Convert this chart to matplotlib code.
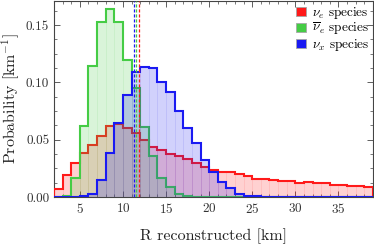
import numpy as np
import matplotlib
matplotlib.use('Agg')
import matplotlib.pyplot as plt
from matplotlib.patches import Patch
from matplotlib.ticker import MultipleLocator

# --------------------------------------------------------------------------------------
# Data (bins of 1 km from 2 to 39)

edges = np.arange(2, 40)

nue = [0.0067, 0.0188, 0.0297, 0.0387, 0.0457, 0.0529, 0.0624, 0.0633, 0.0605, 0.0555,
       0.0494, 0.0436, 0.0407, 0.0375, 0.0355, 0.0330, 0.0293, 0.0265, 0.0240, 0.0220,
       0.0215, 0.0203, 0.0182, 0.0160, 0.0155, 0.0147, 0.0144, 0.0136, 0.0124, 0.0127,
       0.0120, 0.0118, 0.0108, 0.0107, 0.0098, 0.0100, 0.0089]

nuebar = [0.0, 0.0010, 0.0165, 0.0620, 0.1144, 0.1528, 0.1638, 0.1528, 0.1196, 0.0950,
          0.0609, 0.0355, 0.0162, 0.0089, 0.0026, 0.0010, 0.0003, 0.0, 0.0, 0.0,
          0.0, 0.0, 0.0, 0.0, 0.0, 0.0, 0.0, 0.0, 0.0, 0.0,
          0.0, 0.0, 0.0, 0.0, 0.0, 0.0, 0.0]

nux = [0.0, 0.0, 0.0, 0.0005, 0.0030, 0.0147, 0.0384, 0.0650, 0.0890, 0.1090,
       0.1135, 0.1125, 0.1000, 0.0920, 0.0754, 0.0605, 0.0470, 0.0320, 0.0219, 0.0133,
       0.0080, 0.0030, 0.0010, 0.0005, 0.0004, 0.0003, 0.0, 0.0, 0.0, 0.0,
       0.0, 0.0, 0.0, 0.0, 0.0, 0.0, 0.0]

# mean reconstructed radius per species
means = [11.88, 11.50, 11.34]

labels = [r'$\nu_e$ species', r'$\overline{\nu}_e$ species', r'$\nu_x$ species']
colors = [(1.0, 0.1, 0.1), (0.27, 0.8, 0.27), (0.1, 0.1, 0.95)]

# --------------------------------------------------------------------------------------
# Style

plt.rcParams['font.family'] = 'serif'
plt.rcParams['font.serif'] = ['cmr10', 'DejaVu Serif']
plt.rcParams['mathtext.fontset'] = 'cm'
plt.rcParams['axes.formatter.use_mathtext'] = True

# --------------------------------------------------------------------------------------
# Chart

fig = plt.figure(figsize=(3.74, 2.48), dpi=100)
ax = fig.add_axes([0.1444, 0.2056, 0.8526, 0.790])

for i, (vals, col) in enumerate(zip([nue, nuebar, nux], colors)):
    z = 2 + i * 2
    ax.bar(edges[:-1], vals, width=1, align='edge', color=col + (0.2,),
           edgecolor=col + (0.05,), linewidth=0.7, zorder=z)
    ax.stairs(vals, edges, color=col, linewidth=1.5, baseline=0, zorder=z + 1)

for m, col in zip(means, colors):
    ax.axvline(m, color=col, linestyle=(0, (2.5, 1.5)), linewidth=0.9, zorder=10)

handles = [Patch(facecolor=c, edgecolor=(0.65, 0.65, 0.65), linewidth=0.6) for c in colors]
ax.legend(handles, labels, loc='upper right', frameon=False, fontsize=9.5,
          handlelength=0.75, handleheight=0.7, handletextpad=0.4, labelspacing=0.0,
          borderaxespad=0.1, borderpad=0.2)

ax.set_xlim(2, 39)
ax.set_ylim(0, 0.171)

ax.xaxis.set_major_locator(MultipleLocator(5))
ax.xaxis.set_minor_locator(MultipleLocator(1))
ax.yaxis.set_major_locator(MultipleLocator(0.05))
ax.yaxis.set_minor_locator(MultipleLocator(0.0125))
ax.yaxis.set_major_formatter(matplotlib.ticker.FormatStrFormatter('%.2f'))

ax.tick_params(which='both', direction='in', top=True, right=True,
               colors='#444444', labelcolor='#333333', labelsize=9.5)
ax.tick_params(which='major', length=4, width=0.6)
ax.tick_params(which='minor', length=2, width=0.5)
for s in ax.spines.values():
    s.set_color('#444444')
    s.set_linewidth(0.8)

ax.set_xlabel('R reconstructed [km]', fontsize=11.5, color='#222222')
ax.set_ylabel(r'Probability [km$^{-1}$]', fontsize=11.5, color='#222222')
ax.xaxis.set_label_coords(0.5, -0.16)
ax.yaxis.set_label_coords(-0.10, 0.5)

fig.savefig('out.png', dpi=100)
